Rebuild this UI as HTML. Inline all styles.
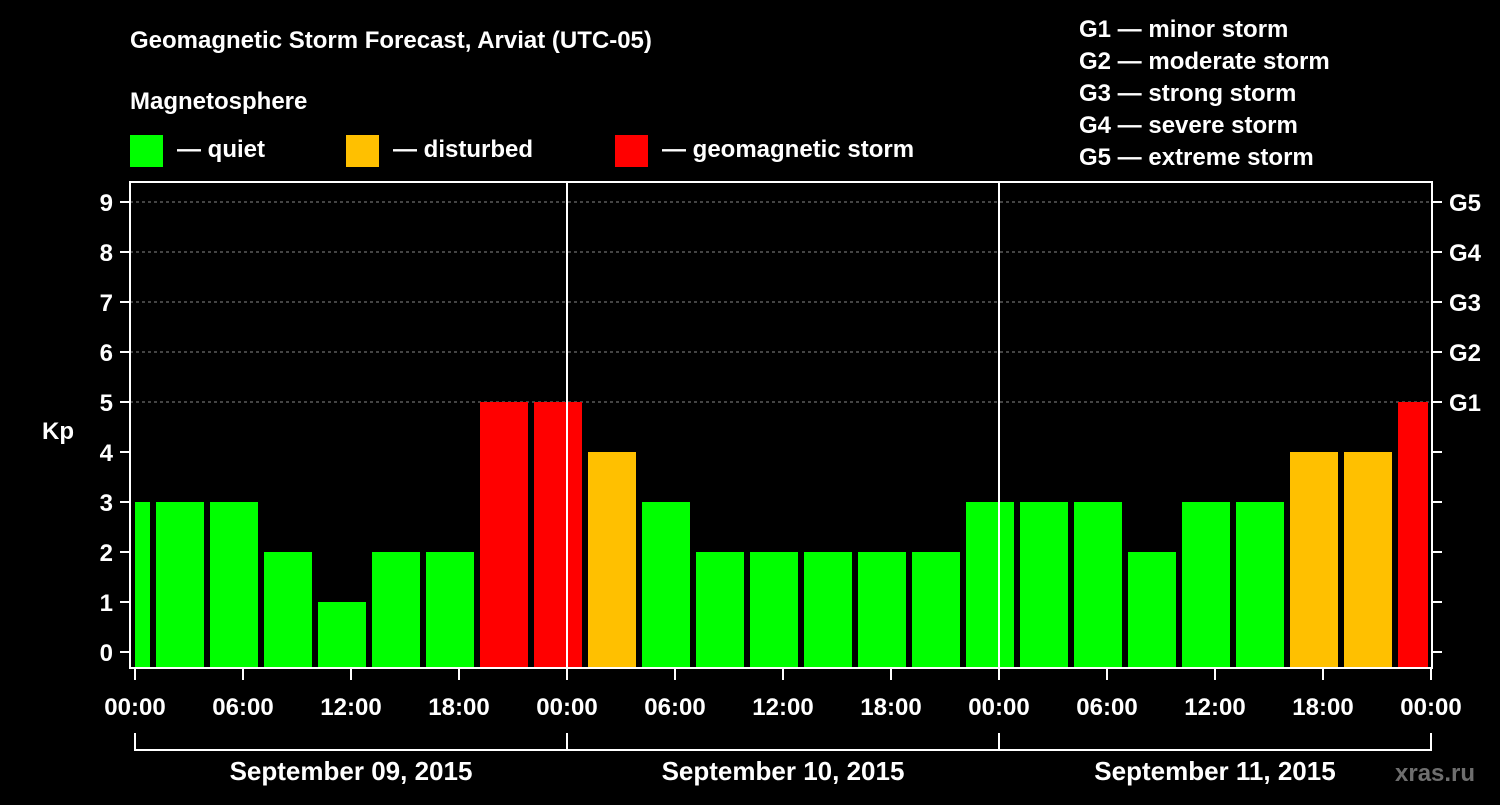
<!DOCTYPE html>
<html><head><meta charset="utf-8"><style>
body{margin:0;background:#000;width:1500px;height:800px;overflow:hidden}
svg text{font-family:"Liberation Sans",Arial,sans-serif;font-weight:bold;fill:#fff}
</style></head><body>
<svg id="chart" width="1500" height="800" xmlns="http://www.w3.org/2000/svg">
<rect width="1500" height="800" fill="#000"/>
<text x="130" y="48" font-size="24">Geomagnetic Storm Forecast, Arviat (UTC-05)</text>
<text x="130" y="109" font-size="24">Magnetosphere</text>
<g><rect x="130" y="135" width="33" height="32" fill="#00ff00"/><text x="177" y="157" font-size="24">— quiet</text></g>
<g><rect x="346" y="135" width="33" height="32" fill="#ffc000"/><text x="393" y="157" font-size="24">— disturbed</text></g>
<g><rect x="615" y="135" width="33" height="32" fill="#ff0000"/><text x="662" y="157" font-size="24">— geomagnetic storm</text></g>
<g font-size="24">
<text x="1079" y="37">G1 — minor storm</text><text x="1079" y="69">G2 — moderate storm</text><text x="1079" y="101">G3 — strong storm</text><text x="1079" y="133">G4 — severe storm</text><text x="1079" y="165">G5 — extreme storm</text></g>
<g id="plot"></g>
<text x="1395" y="781" font-size="24" fill="#666" style="fill:#6e6e6e">xras.ru</text>
</svg>
<script>
const barStartHours=[-2,1,4,7,10,13,16,19,22,25,28,31,34,37,40,43,46,49,52,55,58,61,64,67,70];
const kpValues=[3,3,3,2,1,2,2,5,5,4,3,2,2,2,2,2,3,3,3,2,3,3,4,4,5];
const yTicks=[0,1,2,3,4,5,6,7,8,9];
const gLabels=["","","","","","G1","G2","G3","G4","G5"];
const xTickHours=[0,6,12,18,24,30,36,42,48,54,60,66,72];
const xTickLabels=["00:00","06:00","12:00","18:00","00:00","06:00","12:00","18:00","00:00","06:00","12:00","18:00","00:00"];
const dayLabels=["September 09, 2015","September 10, 2015","September 11, 2015"];
const NS="http://www.w3.org/2000/svg";
const x=h=>135+h*18, y=v=>652-v*50;
const L=130,R=1432,T=182,B=668;
const g=document.getElementById('plot');
function mk(t,a){const e=document.createElementNS(NS,t);for(const k in a)e.setAttribute(k,a[k]);g.appendChild(e);return e;}
yTicks.forEach((v,i)=>{
 if(v>=5){const l=mk('line',{x1:L,x2:R,y1:y(v),y2:y(v),stroke:'#888','stroke-dasharray':'3,3','stroke-width':1});
 
 }
 const t1=mk('line',{x1:L-10,x2:L,y1:y(v),y2:y(v),stroke:'#fff','stroke-width':2});
 
 
 const t2=mk('line',{x1:R,x2:R+10,y1:y(v),y2:y(v),stroke:'#fff','stroke-width':2});
 
 
 const tx=mk('text',{x:113,y:y(v)+9,'font-size':24,'text-anchor':'end'});tx.textContent=v;
 
 
 if(gLabels[i]){const gt=mk('text',{x:1449,y:y(v)+9,'font-size':24});gt.textContent=gLabels[i];
 
 }
});
const kp=mk('text',{x:42,y:439,'font-size':24});kp.textContent='Kp';


kpValues.forEach((v,i)=>{
 const s=Math.max(x(barStartHours[i])+3,x(0)),e=Math.min(x(barStartHours[i]+3)-3,x(72)-3);
 const c=v>=5?'#ff0000':v>=4?'#ffc000':'#00ff00';
 const r=mk('rect',{x:s,y:y(v),width:e-s,height:B-y(v),fill:c});
 
 
});
[24,48].forEach(h=>{const l=mk('line',{x1:x(h),x2:x(h),y1:T,y2:B,stroke:'#fff','stroke-width':2});
 
 });
const f=mk('rect',{x:L,y:T,width:R-L,height:B-T,fill:'none',stroke:'#fff','stroke-width':2});


xTickHours.forEach((h,i)=>{
 const l=mk('line',{x1:x(h),x2:x(h),y1:B,y2:680,stroke:'#fff','stroke-width':2});
 
 
 const t=mk('text',{x:x(h),y:715,'font-size':24,'text-anchor':'middle'});t.textContent=xTickLabels[i];
 
 
});
const br=mk('path',{d:`M${x(0)},733V750H${x(72)}V733M${x(24)},733V750M${x(48)},733V750`,stroke:'#fff','stroke-width':2,fill:'none'});


dayLabels.forEach((d,i)=>{const t=mk('text',{x:x(i*24+12),y:780,'font-size':26,'text-anchor':'middle'});t.textContent=d;
 
 });
</script>
</body></html>
